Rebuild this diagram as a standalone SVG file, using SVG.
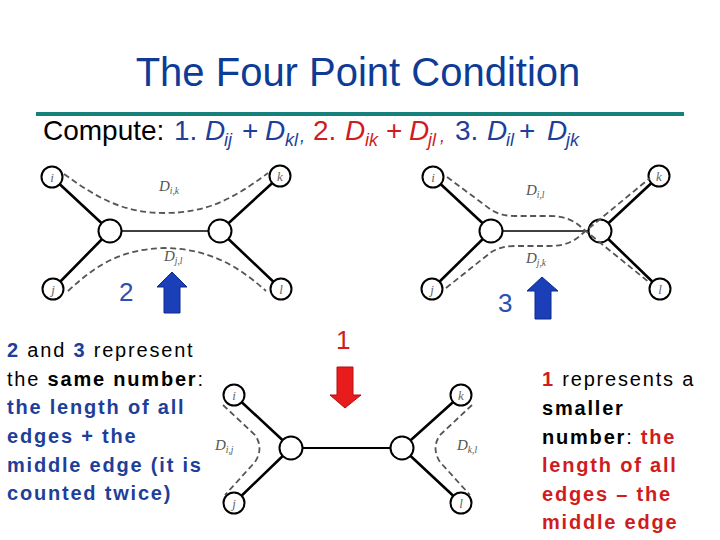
<svg xmlns="http://www.w3.org/2000/svg" width="720" height="540" viewBox="0 0 720 540">
<style>
.sans{font-family:"Liberation Sans",Arial,sans-serif}
.title{font-size:40px;fill:#0d3b96}
.cmp{font-size:28px}
.sub{font-size:18px;font-style:italic}
.it{font-style:italic}
.blue{fill:#1d3f9a}
.red{fill:#d01c1c}
.blk{fill:#000}
.body{font-size:20px;letter-spacing:1.8px}
.b{font-weight:bold}
.num{font-size:26px}
.edge{stroke:#000;stroke-width:2.6;fill:none;stroke-linecap:round}
.mid{stroke:#000;stroke-width:1.4;fill:none}
.leaf{fill:#fff;stroke:#000;stroke-width:2}
.inner{fill:#fff;stroke:#000;stroke-width:2}
.lt{font-family:"Liberation Serif","Times New Roman",serif;font-style:italic;font-size:13px;fill:#666;text-anchor:middle}
.dash{fill:none;stroke:#555;stroke-width:1.8;stroke-dasharray:6 3.5}
.dl{font-family:"Liberation Serif","Times New Roman",serif;font-style:italic;font-size:15px;fill:#555}
.ds{font-size:9.5px}
</style>
<rect width="720" height="540" fill="#fff"/>

<text class="sans title" x="358" y="86" text-anchor="middle">The Four Point Condition</text>
<rect x="36" y="112" width="648" height="4" fill="#16807a"/>

<g id="compute" class="sans cmp">
<text x="43" y="140" class="blk">Compute:</text>
<text x="174" y="140" class="blue">1.</text>
<text x="205" y="140" class="blue it">D</text><text x="224" y="146" class="blue sub">ij</text>
<text x="242" y="140" class="blue">+</text>
<text x="265" y="140" class="blue it">D</text><text x="285" y="146" class="blue sub">kl</text><text x="300" y="142" class="blue sub">,</text>
<text x="313" y="140" class="red">2.</text>
<text x="345" y="140" class="red it">D</text><text x="365" y="146" class="red sub">ik</text>
<text x="386" y="140" class="red">+</text>
<text x="409" y="140" class="red it">D</text><text x="428" y="146" class="red sub">jl</text><text x="440" y="142" class="red sub">,</text>
<text x="455" y="140" class="blue">3.</text>
<text x="487" y="140" class="blue it">D</text><text x="506" y="146" class="blue sub">il</text>
<text x="519" y="140" class="blue">+</text>
<text x="547" y="140" class="blue it">D</text><text x="566" y="146" class="blue sub">jk</text>
</g>

<g id="connectors">
<line class="edge" x1="52" y1="177" x2="110" y2="231"/>
<line class="edge" x1="53" y1="289" x2="110" y2="231"/>
<line class="mid" x1="110" y1="231" x2="220" y2="231"/>
<line class="edge" x1="280" y1="176" x2="220" y2="231"/>
<line class="edge" x1="281" y1="289" x2="220" y2="231"/>
<line class="edge" x1="433" y1="177" x2="491" y2="231"/>
<line class="edge" x1="432" y1="289" x2="491" y2="231"/>
<line class="mid" x1="491" y1="231" x2="600" y2="231"/>
<line class="edge" x1="659" y1="176" x2="600" y2="231"/>
<line class="edge" x1="660" y1="289" x2="600" y2="231"/>
<line class="edge" x1="234" y1="395" x2="291" y2="448"/>
<line class="edge" x1="234" y1="503" x2="291" y2="448"/>
<line class="edge" x1="291" y1="448" x2="402" y2="448" style="stroke-width:2"/>
<line class="edge" x1="461" y1="395" x2="402" y2="448"/>
<line class="edge" x1="461" y1="503" x2="402" y2="448"/>
</g>

<g id="t1-i"><circle class="leaf" cx="52" cy="177" r="10.5"/><text class="lt" x="52" y="181.5">i</text></g>
<g id="t1-j"><circle class="leaf" cx="53" cy="289" r="10.5"/><text class="lt" x="53" y="293.5">j</text></g>
<g id="t1-k"><circle class="leaf" cx="280" cy="176" r="10.5"/><text class="lt" x="280" y="180.5">k</text></g>
<g id="t1-l"><circle class="leaf" cx="281" cy="289" r="10.5"/><text class="lt" x="281" y="293.5">l</text></g>
<g id="t1-a"><circle class="inner" cx="110" cy="231" r="11.5"/></g>
<g id="t1-b"><circle class="inner" cx="220" cy="231" r="11.5"/></g>

<g id="t2-i"><circle class="leaf" cx="433" cy="177" r="10.5"/><text class="lt" x="433" y="181.5">i</text></g>
<g id="t2-j"><circle class="leaf" cx="432" cy="289" r="10.5"/><text class="lt" x="432" y="293.5">j</text></g>
<g id="t2-k"><circle class="leaf" cx="659" cy="176" r="10.5"/><text class="lt" x="659" y="180.5">k</text></g>
<g id="t2-l"><circle class="leaf" cx="660" cy="289" r="10.5"/><text class="lt" x="660" y="293.5">l</text></g>
<g id="t2-a"><circle class="inner" cx="491" cy="231" r="11.5"/></g>
<g id="t2-b"><circle class="inner" cx="600" cy="231" r="11.5"/></g>

<g id="t3-i"><circle class="leaf" cx="234" cy="395" r="10.5"/><text class="lt" x="234" y="399.5">i</text></g>
<g id="t3-j"><circle class="leaf" cx="234" cy="503" r="10.5"/><text class="lt" x="234" y="507.5">j</text></g>
<g id="t3-k"><circle class="leaf" cx="461" cy="395" r="10.5"/><text class="lt" x="461" y="399.5">k</text></g>
<g id="t3-l"><circle class="leaf" cx="461" cy="503" r="10.5"/><text class="lt" x="461" y="507.5">l</text></g>
<g id="t3-a"><circle class="inner" cx="291" cy="448" r="11.5"/></g>
<g id="t3-b"><circle class="inner" cx="402" cy="448" r="11.5"/></g>

<g id="distances">
<path class="dash" d="M64 174 C100 200 125 213 165 213 C205 213 232 200 268 173"/>
<path class="dash" d="M68 291 C95 266 120 249 165 248 C210 249 238 266 266 291"/>
<text class="dl" x="159" y="191">D<tspan class="ds" dy="3">i,k</tspan></text>
<text class="dl" x="164" y="261">D<tspan class="ds" dy="3">j,l</tspan></text>

<path class="dash" d="M447 177 L490 209 Q500 216 515 216 L550 216 Q570 216 582 228 L650 283"/>
<path class="dash" d="M446 288 L490 253 Q500 246 515 246 L550 246 Q570 246 582 234 L650 178"/>
<text class="dl" x="526" y="195">D<tspan class="ds" dy="3">i,l</tspan></text>
<text class="dl" x="526" y="263">D<tspan class="ds" dy="3">j,k</tspan></text>

<path class="dash" d="M223 405 L255 435 Q264 448 255 462 L225 495"/>
<path class="dash" d="M472 405 L440 435 Q431 448 440 462 L470 495"/>
<text class="dl" x="215" y="450">D<tspan class="ds" dy="3">i,j</tspan></text>
<text class="dl" x="457" y="450">D<tspan class="ds" dy="3">k,l</tspan></text>
</g>

<g id="arrows">
<polygon points="172,272 187,287 180,287 180,313 164,313 164,287 157,287" fill="#1a3fb8" stroke="#0c2a8a" stroke-width="1"/>
<polygon points="542,277 558,291 551,291 551,319 535,319 535,291 527,291" fill="#1a3fb8" stroke="#0c2a8a" stroke-width="1"/>
<polygon points="337,367 353,367 353,395 361,395 345,408 330,395 337,395" fill="#e81c1c" stroke="#b01010" stroke-width="1"/>
<text class="sans num" x="119" y="301" fill="#2a50b0">2</text>
<text class="sans num" x="498" y="312" fill="#2a50b0">3</text>
<text class="sans num red" x="336" y="349">1</text>
</g>

<g id="left-note" class="sans body">
<text x="7" y="357"><tspan class="b blue">2</tspan><tspan class="blk"> and </tspan><tspan class="b blue">3</tspan><tspan class="blk"> represent</tspan></text>
<text x="7" y="386"><tspan class="blk">the </tspan><tspan class="b blk">same number</tspan><tspan class="blk">:</tspan></text>
<text x="7" y="414" class="b blue">the length of all</text>
<text x="7" y="443" class="b blue">edges + the</text>
<text x="7" y="472" class="b blue">middle edge (it is</text>
<text x="7" y="500" class="b blue">counted twice)</text>
</g>

<g id="right-note" class="sans body">
<text x="542" y="386"><tspan class="b red">1</tspan><tspan class="blk"> represents a</tspan></text>
<text x="542" y="415" class="b blk">smaller</text>
<text x="542" y="444"><tspan class="b blk">number</tspan><tspan class="blk">: </tspan><tspan class="b red">the</tspan></text>
<text x="542" y="472" class="b red">length of all</text>
<text x="542" y="501" class="b red">edges – the</text>
<text x="542" y="529" class="b red">middle edge</text>
</g>
</svg>
